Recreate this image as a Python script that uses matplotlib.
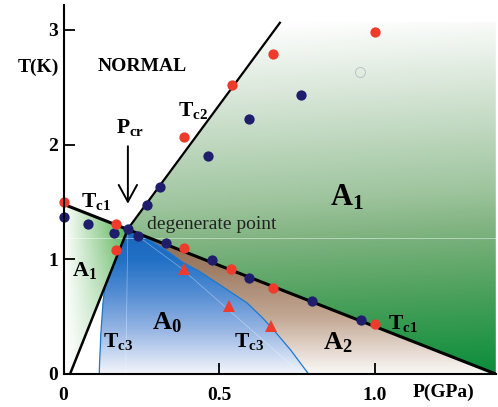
import numpy as np
import matplotlib
import matplotlib.pyplot as plt
from matplotlib.patches import Polygon
from matplotlib.colors import to_rgb

matplotlib.use("Agg")

plt.rcParams['font.family'] = ['Liberation Serif', 'DejaVu Serif']
plt.rcParams['mathtext.fontset'] = 'custom'
plt.rcParams['mathtext.rm'] = 'Liberation Serif:bold'
plt.rcParams['mathtext.it'] = 'Liberation Serif:bold'
plt.rcParams['mathtext.bf'] = 'Liberation Serif:bold'

# measured points (P in GPa, T in K)
red_P = [0.0, 0.170, 0.170, 0.386, 0.543, 0.675, 1.0, 0.389, 0.537, 0.675, 1.0]
red_T = [1.50, 1.31, 1.08, 2.07, 2.52, 2.79, 2.98, 1.10, 0.915, 0.75, 0.436]
navy_P = [0.0, 0.080, 0.161, 0.207, 0.241, 0.270, 0.309, 0.466, 0.595, 0.765,
          0.331, 0.476, 0.595, 0.800, 0.958]
navy_T = [1.37, 1.31, 1.23, 1.265, 1.20, 1.47, 1.63, 1.90, 2.22, 2.43,
          1.14, 0.99, 0.84, 0.64, 0.47]
tri_P = [0.389, 0.531, 0.666]
tri_T = [0.915, 0.59, 0.42]
open_P = [0.952]
open_T = [2.63]

# phase boundaries
tc1_P = [0.0, 1.39]
tc1_T = [1.48, 0.0]
tc2_up_P = [0.207, 0.698]
tc2_up_T = [1.265, 3.07]
tc2_lo_P = [0.021, 0.207]
tc2_lo_T = [0.0, 1.265]
tc3_left_P = [0.207, 0.133, 0.127, 0.124, 0.120, 0.118, 0.116, 0.115]
tc3_left_T = [1.265, 0.76, 0.62, 0.50, 0.35, 0.21, 0.10, 0.0]
tc3_right_P = [0.207, 0.27, 0.33, 0.38, 0.44, 0.49, 0.54, 0.59, 0.64, 0.68, 0.73, 0.788]
tc3_right_T = [1.265, 1.18, 1.08, 0.98, 0.89, 0.80, 0.71, 0.62, 0.49, 0.37, 0.21, 0.0]

xmax, ymax = 1.39, 3.217


def tc1(p):
    return np.interp(p, tc1_P, tc1_T)


def vgrad(ax, pts, stops, cols, fn=None):
    poly = Polygon(pts, closed=True, facecolor='none', edgecolor='none')
    ax.add_patch(poly)
    pp, tt = np.meshgrid(np.linspace(0, xmax, 400), np.linspace(0, ymax, 400))
    s = tt if fn is None else fn(pp, tt)
    rgb = np.array([to_rgb(c) for c in cols])
    img = np.dstack([np.interp(s, stops, rgb[:, k]) for k in range(3)])
    im = ax.imshow(img, origin='lower', extent=[0, xmax, 0, ymax], aspect='auto',
                   interpolation='bilinear', zorder=1)
    im.set_clip_path(poly)


fig = plt.figure(figsize=(4.98, 4.07), dpi=100)
ax = fig.add_axes([63.5 / 498, 33 / 407, 1.39 * 311 / 498, 3.217 * 114.7 / 407])

# A1 (right) green
pts = [(tc2_up_P[0], tc2_up_T[0]), (tc2_up_P[1], tc2_up_T[1]), (xmax, 3.07),
       (xmax, 0.0), (tc1_P[1], 0.0)]
vgrad(ax, pts, [-0.2, 0.0, 0.6, 1.2, 1.5, 2.4, 3.07],
      ['#05883a', '#13903f', '#4aa05a', '#82b482', '#9dc49d', '#d6e5d6', '#ffffff'],
      fn=lambda p, t: t - 0.15 * (p - 0.7))

# A1 (left) green, fades to white at the axis
pts = [(0, 0), (0, tc1(0)), (tc2_lo_P[1], tc2_lo_T[1]), (tc2_lo_P[0], 0)]
poly = Polygon(pts, closed=True, facecolor='none', edgecolor='none')
ax.add_patch(poly)
pp, tt = np.meshgrid(np.linspace(0, 0.25, 200), np.linspace(0, 1.5, 200))
w = np.clip(pp / 0.19, 0, 1) * (0.3 + 0.7 * np.clip(tt / 1.26, 0, 1))
g = np.array(to_rgb('#62b862'))
img = 1 - w[..., None] * (1 - g)
im = ax.imshow(img, origin='lower', extent=[0, 0.25, 0, 1.5], aspect='auto', zorder=1)
im.set_clip_path(poly)

# brown (A2 and sliver)
brown_stops = [0.0, 0.5, 0.9, 1.265]
brown_cols = ['#fbf9f7', '#c2a793', '#a17f67', '#8c6a50']
pts = list(zip(tc2_lo_P, tc2_lo_T)) + list(zip(tc3_left_P, tc3_left_T))[::-1][:-1]
vgrad(ax, pts, brown_stops, brown_cols)
pts = list(zip(tc3_right_P, tc3_right_T)) + [(tc1_P[1], 0.0)]
vgrad(ax, pts, brown_stops, brown_cols)

# A0 blue
pts = list(zip(tc3_left_P, tc3_left_T))[::-1] + list(zip(tc3_right_P, tc3_right_T))[1:]
vgrad(ax, pts, [0.0, 0.4, 0.7, 1.0, 1.265],
      ['#f2f5fb', '#93b3e3', '#548dd3', '#2070c5', '#1a66bb'])

# faint artifacts from the original shading
ax.plot([0, xmax], [1.186, 1.186], color='white', lw=0.7, alpha=0.45, zorder=2)
ax.plot([0.207, 0.200], [1.265, 0.0], color='white', lw=0.6, alpha=0.35, zorder=2)
ax.plot([0.207, 0.375, 0.74], [1.265, 0.93, 0.06], color='white', lw=0.6, alpha=0.35, zorder=2)

# boundaries
ax.plot(tc3_left_P, tc3_left_T, color='#1c78cc', lw=0.9, zorder=3)
ax.plot(tc3_right_P, tc3_right_T, color='#1c78cc', lw=0.9, zorder=3)
ax.plot(tc1_P, tc1_T, color='black', lw=2.2, zorder=4, solid_capstyle='butt')
ax.plot(tc2_up_P, tc2_up_T, color='black', lw=1.6, zorder=4, solid_capstyle='butt')
ax.plot(tc2_lo_P, tc2_lo_T, color='black', lw=1.8, zorder=4, solid_capstyle='butt')

# data markers
ax.plot(navy_P, navy_T, 'o', color='#1e1e6c', ms=7.4, mew=0, zorder=6, clip_on=False)
ax.plot(red_P, red_T, 'o', color='#ef3b2c', ms=7.4, mew=0, zorder=6, clip_on=False)
ax.plot(tri_P, tri_T, '^', color='#ef3b2c', ms=8, mew=0, zorder=6)
ax.plot(open_P, open_T, 'o', mfc='none', mec='#b8c4c8', ms=7.2, mew=0.7, ls='none', zorder=6)

# arrow to the degenerate point
ax.annotate('', xy=(0.207, 1.46), xytext=(0.207, 2.01),
            arrowprops=dict(arrowstyle='->,head_length=0.55,head_width=0.3', lw=1.4,
                            color='black', mutation_scale=22), zorder=7)

# labels
ax.text(0.254, 2.68, 'NORMAL', fontsize=14, fontweight='bold', ha='center', va='center')
ax.text(-0.08, 2.67, 'T(K)', fontsize=14, fontweight='bold', ha='center', va='center',
        clip_on=False)
ax.text(1.222, -0.157, 'P(GPa)', fontsize=14, fontweight='bold', ha='center', va='center',
        clip_on=False)
ax.text(0.415, 2.30, r'$\mathrm{T_{c2}}$', fontsize=15.5, ha='center', va='center')
ax.text(0.215, 2.15, r'$\mathrm{P_{cr}}$', fontsize=15.5, ha='center', va='center')
ax.text(0.103, 1.50, r'$\mathrm{T_{c1}}$', fontsize=15.5, ha='center', va='center')
ax.text(1.093, 0.436, r'$\mathrm{T_{c1}}$', fontsize=15.5, ha='center', va='center')
ax.text(0.174, 0.28, r'$\mathrm{T_{c3}}$', fontsize=15.5, ha='center', va='center', zorder=8)
ax.text(0.598, 0.28, r'$\mathrm{T_{c3}}$', fontsize=15.5, ha='center', va='center', zorder=8)
ax.text(0.27, 1.30, 'degenerate point', fontsize=14, ha='left', va='center',
        color='#222222', zorder=8)
ax.text(0.913, 1.54, r'$\mathrm{A_{1}}$', fontsize=22, ha='center', va='center', zorder=8)
ax.text(0.068, 0.90, r'$\mathrm{A_{1}}$', fontsize=16, ha='center', va='center', zorder=8)
ax.text(0.334, 0.445, r'$\mathrm{A_{0}}$', fontsize=19, ha='center', va='center', zorder=8)
ax.text(0.881, 0.27, r'$\mathrm{A_{2}}$', fontsize=19, ha='center', va='center', zorder=8)

ax.set_xlim(0, xmax)
ax.set_ylim(0, ymax)
ax.set_xticks([0, 0.5, 1.0])
ax.set_xticklabels(['0', '0.5', '1.0'])
ax.set_yticks([0, 1, 2, 3])
ax.set_yticklabels(['0', '1', '2', '3'])
for lab in ax.get_xticklabels() + ax.get_yticklabels():
    lab.set_fontweight('bold')
ax.tick_params(direction='in', length=8, width=1.3, labelsize=14)
ax.tick_params(axis='x', pad=9)
ax.tick_params(axis='y', pad=4)
for side in ['top', 'right']:
    ax.spines[side].set_visible(False)
for side in ['left', 'bottom']:
    ax.spines[side].set_linewidth(1.5)
    ax.spines[side].set_zorder(9)

fig.savefig('out.png', dpi=100)
